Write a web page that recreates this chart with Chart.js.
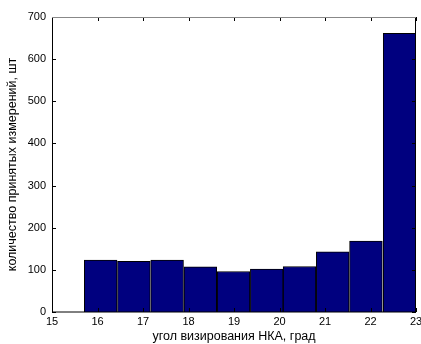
<!DOCTYPE html>
<html>
<head>
<meta charset="utf-8">
<script src="https://cdn.jsdelivr.net/npm/chart.js@4.4.0/dist/chart.umd.min.js"></script>
<style>
  html, body { margin: 0; padding: 0; background: #fff; }
  #wrap { width: 421px; height: 344px; }
</style>
</head>
<body>
<div id="wrap"><canvas id="hist"></canvas></div>
<script>
// bin centres (deg) and counts
const binCenters = [16.07, 16.80, 17.53, 18.26, 18.99, 19.72, 20.44, 21.17, 21.90, 22.64];
const counts = [123, 120, 123, 107, 96, 102, 108, 143, 168, 661];
const xTicks = [15, 16, 17, 18, 19, 20, 21, 22, 23];
const yTicks = [0, 100, 200, 300, 400, 500, 600, 700];

const FONT = 'Liberation Sans, Arial, sans-serif';

// MATLAB-like box with inward ticks
const boxTicks = {
  id: 'boxTicks',
  afterDraw(chart) {
    const { ctx, chartArea: a, scales: { x, y } } = chart;
    ctx.save();
    ctx.lineWidth = 1;
    ctx.strokeStyle = '#000';
    ctx.beginPath();
    xTicks.forEach(v => {
      const px = Math.round(x.getPixelForValue(v)) + 0.5;
      ctx.moveTo(px, a.bottom); ctx.lineTo(px, a.bottom - 4);
      ctx.moveTo(px, a.top); ctx.lineTo(px, a.top + 4);
    });
    yTicks.forEach(v => {
      const py = Math.round(y.getPixelForValue(v)) + 0.5;
      ctx.moveTo(a.left, py); ctx.lineTo(a.left + 4, py);
      ctx.moveTo(a.right, py); ctx.lineTo(a.right - 4, py);
    });
    ctx.stroke();
    ctx.beginPath();
    ctx.strokeStyle = '#000';
    ctx.moveTo(a.left + 0.5, a.top); ctx.lineTo(a.left + 0.5, a.bottom);
    ctx.lineTo(a.right, a.bottom);
    ctx.moveTo(a.right - 0.5, a.bottom); ctx.lineTo(a.right - 0.5, a.top);
    ctx.stroke();
    ctx.beginPath();
    ctx.strokeStyle = '#888';
    ctx.moveTo(a.left, a.top + 0.5); ctx.lineTo(a.right, a.top + 0.5);
    ctx.stroke();
    ctx.restore();
  }
};

new Chart(document.getElementById('hist'), {
  type: 'bar',
  data: {
    datasets: [{
      data: binCenters.map((c, i) => ({ x: c, y: counts[i] })),
      backgroundColor: '#00007f',
      borderColor: '#000',
      borderWidth: 1,
      barPercentage: 1,
      categoryPercentage: 1
    }]
  },
  options: {
    responsive: true,
    maintainAspectRatio: false,
    animation: false,
    layout: { padding: { top: 17, right: 5, left: 0, bottom: 0 } },
    plugins: { legend: { display: false }, tooltip: { enabled: false } },
    scales: {
      x: {
        type: 'linear',
        offset: false,
        min: 15, max: 23,
        afterBuildTicks: s => { s.ticks = xTicks.map(v => ({ value: v })); },
        afterFit: s => { s.height = 32; s.paddingLeft = 0; s.paddingRight = 0; },
        grid: { display: false, drawTicks: false, offset: false },
        border: { display: false },
        ticks: { color: '#000', font: { family: FONT, size: 11 }, padding: 3, maxRotation: 0 },
        title: { display: true, text: 'угол визирования НКА, град', color: '#000', font: { family: FONT, size: 12.5 }, padding: { top: 0, bottom: 0 } }
      },
      y: {
        min: 0, max: 700,
        afterBuildTicks: s => { s.ticks = yTicks.map(v => ({ value: v })); },
        afterFit: s => { s.width = 52; s.paddingTop = 0; s.paddingBottom = 0; },
        grid: { display: false, drawTicks: false },
        border: { display: false },
        ticks: { color: '#000', font: { family: FONT, size: 11 }, padding: 6 },
        title: { display: true, text: 'количество принятых измерений, шт', color: '#000', font: { family: FONT, size: 12.5 }, padding: { top: 5, bottom: 0 } }
      }
    }
  },
  plugins: [boxTicks]
});
</script>
</body>
</html>
